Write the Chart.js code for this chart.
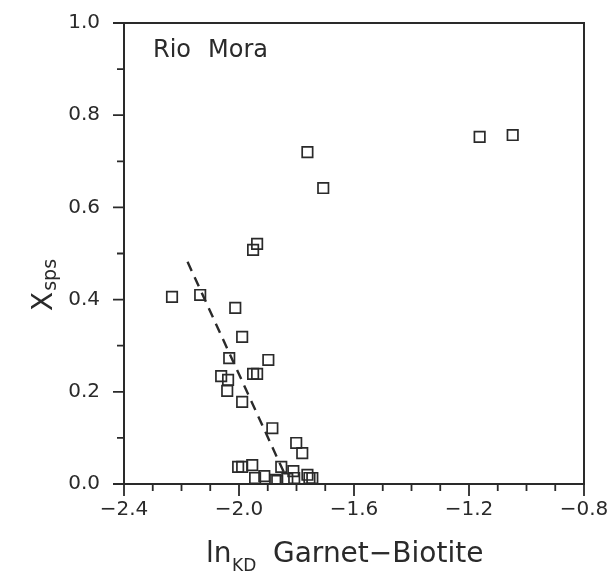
<!DOCTYPE html>
<html>
<head>
<meta charset="utf-8">
<script src="https://cdn.jsdelivr.net/npm/chart.js@4/dist/chart.umd.min.js"></script>
<style>
  html, body { margin: 0; padding: 0; background: #fff; }
  #wrap { width: 607px; height: 572px; }
</style>
</head>
<body>
<div id="wrap"><canvas id="c" width="607" height="572"></canvas></div>
<script>
// ---- data ----
const lnKD = [
  -1.951, -1.937, -2.233, -2.135, -2.013, -1.989, -2.034, -1.898,
  -1.951, -1.937, -2.062, -2.038, -2.041, -1.989, -1.884, -1.801,
  -1.780, -2.003, -1.989, -1.954, -1.853, -1.811, -1.944, -1.912,
  -1.874, -1.867, -1.832, -1.808, -1.762, -1.755, -1.745,
  -1.762, -1.707, -1.163, -1.048
];
const Xsps = [
  0.508, 0.521, 0.406, 0.410, 0.382, 0.319, 0.273, 0.269,
  0.239, 0.239, 0.234, 0.226, 0.202, 0.178, 0.121, 0.089,
  0.067, 0.037, 0.037, 0.041, 0.037, 0.028, 0.013, 0.017,
  0.009, 0.007, 0.011, 0.013, 0.020, 0.013, 0.013,
  0.720, 0.642, 0.753, 0.757
];
const trendX = [-2.179, -1.84];
const trendY = [0.482, 0.02];
const xTicks = [-2.4, -2.0, -1.6, -1.2, -0.8];
const yTicks = [0.0, 0.2, 0.4, 0.6, 0.8, 1.0];
const xMinor = [-2.3, -2.2, -2.1, -1.9, -1.8, -1.7, -1.5, -1.4, -1.3, -1.1, -1.0, -0.9];
const yMinor = [0.1, 0.3, 0.5, 0.7, 0.9];
const label = 'Rio Mora';

const INK = '#2a2a2a';
const FONT = 'DejaVu Sans';

const frame = {
  id: 'frame',
  afterDraw(chart) {
    const { ctx, chartArea: a, scales } = chart;
    const xs = scales.x, ys = scales.y;
    ctx.save();
    ctx.strokeStyle = INK;
    ctx.lineWidth = 2;
    ctx.strokeRect(a.left, a.top, a.right - a.left, a.bottom - a.top);
    ctx.lineWidth = 1.8;
    ctx.beginPath();
    xTicks.forEach(v => { const p = xs.getPixelForValue(v); ctx.moveTo(p, a.bottom); ctx.lineTo(p, a.bottom + 12); });
    xMinor.forEach(v => { const p = xs.getPixelForValue(v); ctx.moveTo(p, a.bottom); ctx.lineTo(p, a.bottom + 7); });
    yTicks.forEach(v => { const p = ys.getPixelForValue(v); ctx.moveTo(a.left, p); ctx.lineTo(a.left - 11, p); });
    yMinor.forEach(v => { const p = ys.getPixelForValue(v); ctx.moveTo(a.left, p); ctx.lineTo(a.left - 7, p); });
    ctx.stroke();

    ctx.fillStyle = INK;
    ctx.textBaseline = 'alphabetic';
    ctx.textAlign = 'left';
    // panel label
    const words = label.split(' ');
    ctx.font = '24px "' + FONT + '"';
    ctx.fillText(words[0], a.left + 29, a.top + 34);
    ctx.fillText(words[1], a.left + 84, a.top + 34);

    // x axis title: ln_KD Garnet−Biotite
    ctx.font = '28px "' + FONT + '"';
    ctx.fillText('ln', 206, 562);
    ctx.font = '17px "' + FONT + '"';
    ctx.fillText('KD', 232, 571);
    ctx.font = '28px "' + FONT + '"';
    ctx.fillText('Garnet\u2212Biotite', 273, 562);

    // y axis title: X_sps (rotated)
    ctx.translate(52, 311);
    ctx.rotate(-Math.PI / 2);
    ctx.font = '28px "' + FONT + '"';
    ctx.fillText('X', 0, 0);
    const w = ctx.measureText('X').width;
    ctx.font = '19px "' + FONT + '"';
    ctx.fillText('sps', w + 1, 4);
    ctx.restore();
  }
};

const fmt = v => {
  const s = Math.abs(v).toFixed(1);
  return v < -1e-9 ? '\u2212' + s : s;
};

const noPad = s => { s.paddingLeft = 0; s.paddingRight = 0; s.paddingTop = 0; s.paddingBottom = 0; };

new Chart(document.getElementById('c'), {
  type: 'scatter',
  data: {
    datasets: [
      {
        label: 'samples',
        data: lnKD.map((x, i) => ({ x, y: Xsps[i] })),
        pointStyle: 'rect',
        pointRadius: 7.4,
        pointBorderWidth: 1.7,
        borderColor: INK,
        backgroundColor: 'rgba(0,0,0,0)',
        showLine: false
      },
      {
        label: 'trend',
        data: trendX.map((x, i) => ({ x, y: trendY[i] })),
        showLine: true,
        pointRadius: 0,
        borderColor: INK,
        borderWidth: 2.4,
        borderDash: [10, 7]
      }
    ]
  },
  options: {
    responsive: false,
    animation: false,
    devicePixelRatio: 1,
    layout: { padding: { top: 23, right: 23, left: 0, bottom: 0 } },
    plugins: { legend: { display: false }, tooltip: { enabled: false } },
    scales: {
      x: {
        type: 'linear', min: -2.4, max: -0.8,
        afterBuildTicks: s => { s.ticks = xTicks.map(v => ({ value: v })); },
        afterFit: s => { s.height = 88; noPad(s); },
        grid: { display: false, drawTicks: false },
        border: { display: false },
        ticks: { callback: v => fmt(v), color: INK, font: { family: FONT, size: 20 }, padding: 14, maxRotation: 0, autoSkip: false }
      },
      y: {
        type: 'linear', min: 0, max: 1,
        afterBuildTicks: s => { s.ticks = yTicks.map(v => ({ value: v })); },
        afterFit: s => { s.width = 124; noPad(s); },
        grid: { display: false, drawTicks: false },
        border: { display: false },
        ticks: { callback: v => fmt(v), color: INK, font: { family: FONT, size: 20 }, padding: 24, autoSkip: false }
      }
    }
  },
  plugins: [frame]
});
</script>
</body>
</html>
